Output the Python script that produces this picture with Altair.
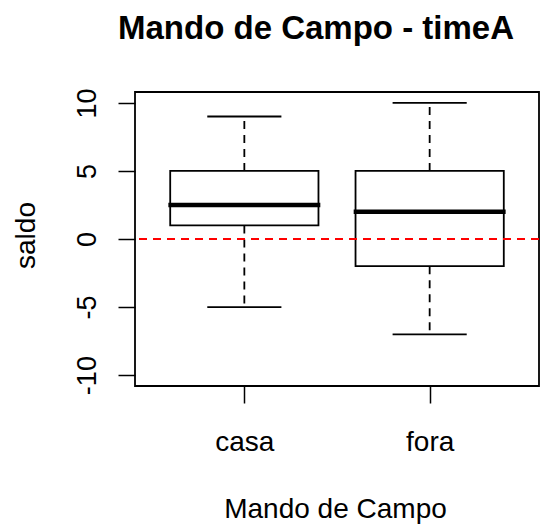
import altair as alt
import pandas as pd

# Five-number summaries of "saldo" by home/away ("Mando de Campo")
grupos = ["casa", "fora"]
posicao = [1, 2]
minimo = [-5, -7]
q1 = [1, -2]
mediana = [2.5, 2]
q3 = [5, 5]
maximo = [9, 10]

df = pd.DataFrame({
    "grupo": grupos, "pos": posicao, "min": minimo, "q1": q1,
    "med": mediana, "q3": q3, "max": maximo,
})

FONT = "Liberation Sans"
W, H = 404, 294

x_scale = alt.Scale(domain=[0.41, 2.59], nice=False, zero=False)
y_scale = alt.Scale(domain=[-10.8, 10.8], nice=False, zero=False)

x_axis = alt.Axis(
    values=[1, 2],
    labelExpr="datum.value == 1 ? 'casa' : 'fora'",
    title="Mando de Campo",
    grid=False, domain=False,
    tickColor="black", tickWidth=1.5, tickSize=17,
    labelFont=FONT, labelFontSize=28, labelColor="black",
    labelBaseline="alphabetic", labelPadding=47,
    titleFont=FONT, titleFontSize=28, titleFontWeight="normal",
    titleColor="black", titleBaseline="alphabetic", titleAlign="center",
    titleX=W / 2 - 2, titleY=131,
)
y_axis = alt.Axis(
    values=[-10, -5, 0, 5, 10],
    labelExpr="'' + datum.value",
    title="saldo",
    grid=False, domain=False,
    tickColor="black", tickWidth=1.5, tickSize=17,
    labelFont=FONT, labelFontSize=27, labelColor="black",
    labelAngle=270, labelAlign="center", labelBaseline="alphabetic",
    labelPadding=23,
    titleFont=FONT, titleFontSize=28, titleFontWeight="normal",
    titleColor="black", titleAngle=270, titleAlign="center",
    titleBaseline="alphabetic", titleX=-101, titleY=143,
)

base = alt.Chart(df).transform_calculate(
    esq="datum.pos - 0.4", dir="datum.pos + 0.4",
    mesq="datum.pos - 0.41", mdir="datum.pos + 0.41",
    cesq="datum.pos - 0.2", cdir="datum.pos + 0.2",
)

caixa = base.mark_rect(fill="white", stroke="black", strokeWidth=1.8).encode(
    x=alt.X("esq:Q", scale=x_scale, axis=x_axis),
    x2="dir:Q",
    y=alt.Y("q1:Q", scale=y_scale, axis=y_axis),
    y2="q3:Q",
)

bigode_sup = base.mark_rule(color="black", strokeWidth=1.8, strokeDash=[8, 6]).encode(
    x=alt.X("pos:Q", scale=x_scale), y=alt.Y("q3:Q", scale=y_scale), y2="max:Q"
)
bigode_inf = base.mark_rule(color="black", strokeWidth=1.8, strokeDash=[8, 6]).encode(
    x=alt.X("pos:Q", scale=x_scale), y=alt.Y("q1:Q", scale=y_scale), y2="min:Q"
)
cap_sup = base.mark_rule(color="black", strokeWidth=1.8).encode(
    x=alt.X("cesq:Q", scale=x_scale), x2="cdir:Q", y=alt.Y("max:Q", scale=y_scale)
)
cap_inf = base.mark_rule(color="black", strokeWidth=1.8).encode(
    x=alt.X("cesq:Q", scale=x_scale), x2="cdir:Q", y=alt.Y("min:Q", scale=y_scale)
)
linha_mediana = base.mark_rule(color="black", strokeWidth=4.5).encode(
    x=alt.X("mesq:Q", scale=x_scale), x2="mdir:Q", y=alt.Y("med:Q", scale=y_scale)
)

zero = alt.Chart(df).mark_rule(color="#ff0000", strokeWidth=1.8, strokeDash=[8, 6]).encode(
    y=alt.datum(0, scale=y_scale)
)

chart = alt.layer(
    caixa, bigode_sup, bigode_inf, cap_sup, cap_inf, zero, linha_mediana
).properties(
    width=W, height=H,
    title=alt.TitleParams(
        "Mando de Campo - timeA", font=FONT, fontSize=33, fontWeight="bold",
        color="black", anchor="middle", frame="group", dx=-21,
        baseline="alphabetic", offset=16,
    ),
    autosize="none",
    padding={"left": 135, "top": 92, "right": 12, "bottom": 139},
).configure(
    background="white"
).configure_view(
    stroke="black", strokeWidth=1.8
)

chart.save("out.html", embed_options={"renderer": "svg", "actions": False})
